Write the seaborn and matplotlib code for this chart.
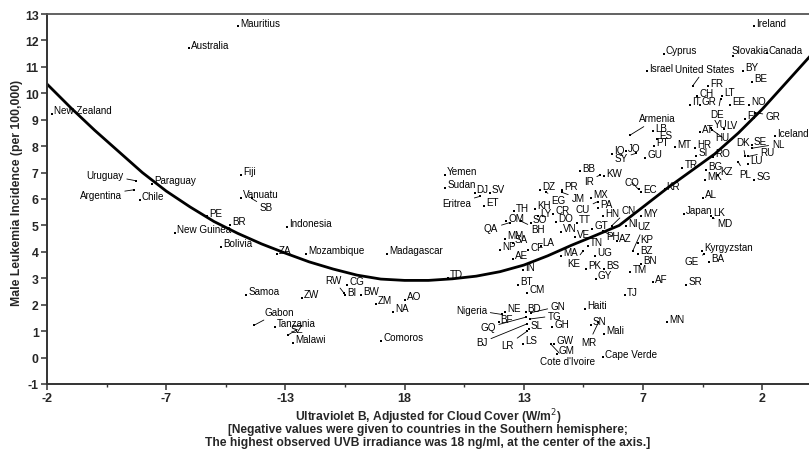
import matplotlib
matplotlib.use("Agg")
import matplotlib.pyplot as plt
import seaborn as sns
import pandas as pd
from matplotlib import font_manager

# ---------------- data (x = position on the folded UVB axis, ticks every 5 units) -------------
countries = [
    "New Zealand", "Australia", "Mauritius", "Uruguay", "Paraguay", "Argentina", "Chile", "Fiji",
    "Vanuatu", "SB", "PE", "BR", "New Guinea", "Bolivia", "Indonesia", "ZA", "Mozambique",
    "Madagascar", "Samoa", "Gabon", "Tanzania", "SZ", "Malawi", "ZW", "CG", "BI", "RW", "BW",
    "ZM", "AO", "NA", "Comoros", "TD", "Yemen", "Sudan", "DJ", "SV", "Eritrea", "ET", "TH", "KH",
    "QA", "OM", "BH", "SO", "LY", "CR", "DZ", "EG", "PR", "JM", "MX", "PA", "CU", "HN", "DO",
    "TT", "GT", "VN", "VE", "PH", "MM", "NP", "SA", "CF", "LA", "AE", "MA", "TN", "UG", "KE",
    "PK", "BS", "GY", "BT", "IN", "CM", "Haiti", "Nigeria", "NE", "BF", "GQ", "BJ", "LR", "BD",
    "GN", "TG", "SL", "GH", "LS", "SN", "Mali", "MR", "GW", "GM", "Cote d'Ivoire", "Cape Verde",
    "MN", "AF", "TJ", "TM", "BN", "BZ", "KP", "UZ", "AZ", "NI", "MY", "CN", "Japan", "LK", "MD",
    "Kyrgyzstan", "GE", "BA", "SR", "AL", "KR", "EC", "CO", "KW", "IR", "BB", "IQ", "JO", "SY",
    "GU", "PT", "LB", "ES", "Armenia", "MT", "HR", "SI", "TR", "RO", "AT", "YU", "HU", "LV",
    "MK", "BG", "KZ", "PL", "SG", "LU", "DK", "RU", "SE", "NL", "Iceland", "FI", "NO", "EE",
    "DE", "LT", "IT", "GR", "GR", "CH", "FR", "United States", "BE", "BY", "Israel", "Cyprus",
    "Slovakia", "Canada", "Ireland",
]
uvb_pos = [
    0.20, 5.96, 8.01, 3.73, 4.40, 3.65, 3.90, 8.14,
    8.14, 8.58, 6.71, 7.68, 5.37, 7.30, 10.07, 9.65, 10.87,
    14.26, 8.35, 8.70, 9.56, 10.12, 10.32, 10.70, 12.59, 12.51, 12.44, 13.17,
    13.80, 15.01, 14.51, 14.01, 16.82, 16.70, 16.70, 17.94, 18.57, 18.16, 18.33, 19.59, 20.46,
    19.42, 19.26, 19.88, 20.30, 20.60, 21.23, 20.67, 20.93, 21.60, 21.60, 22.83, 23.11, 23.09, 23.32, 21.35,
    22.23, 22.86, 21.55, 22.14, 23.32, 19.21, 19.02, 19.53, 20.18, 20.70, 19.55, 21.57, 22.70, 22.98, 22.48,
    22.60, 23.37, 23.02, 19.76, 19.97, 20.15, 22.56, 19.09, 19.23, 18.94, 20.09, 20.12, 20.14, 20.07,
    20.30, 20.26, 20.21, 21.20, 19.97, 22.81, 23.37, 23.13, 21.27, 21.37, 21.13, 23.32,
    26.02, 25.42, 24.23, 24.47, 24.93, 24.79, 24.79, 24.57, 23.92, 24.30, 24.93, 23.69, 26.71, 27.84, 27.92,
    27.48, 27.57, 27.76, 26.82, 27.52, 25.90, 24.91, 24.81, 23.37, 23.20, 22.35, 23.70, 24.30, 24.71,
    25.10, 25.46, 25.42, 25.59, 24.46, 26.33, 27.18, 27.24, 26.65, 27.94, 27.38, 27.86, 27.90, 28.40,
    27.59, 27.65, 28.15, 29.00, 29.66, 29.41, 29.28, 29.41, 29.57, 29.56, 30.55, 29.27, 29.44, 28.64,
    28.25, 28.32, 26.96, 27.38, 29.70, 27.27, 27.73, 27.09, 29.59, 29.20, 25.18, 25.87,
    28.78, 30.21, 29.66,
]
incidence = [
    9.22, 11.70, 12.53, 6.69, 6.57, 6.35, 5.96, 6.92,
    6.04, 6.02, 5.34, 5.03, 4.71, 4.18, 4.94, 3.92, 3.93,
    3.93, 2.37, 1.23, 1.16, 0.86, 0.55, 2.25, 2.76, 2.36, 2.46, 2.37,
    2.04, 2.18, 1.72, 0.63, 3.01, 6.92, 6.42, 6.23, 6.23, 6.10, 5.75, 5.53, 5.62,
    5.11, 5.16, 5.16, 5.09, 5.34, 5.44, 6.35, 6.26, 6.34, 6.25, 6.04, 5.66, 5.90, 5.34, 5.13,
    5.09, 4.86, 4.76, 4.55, 4.79, 4.49, 4.08, 4.33, 4.06, 4.24, 3.73, 3.85, 4.22, 3.85, 4.03,
    3.35, 3.35, 2.97, 2.76, 3.30, 2.44, 1.84, 1.63, 1.74, 1.33, 1.53, 1.27, 1.00, 1.72,
    1.70, 1.46, 1.08, 1.14, 0.52, 1.24, 0.90, 1.33, 0.52, 0.15, 0.51, 0.01,
    1.33, 2.85, 2.36, 3.23, 3.55, 3.93, 4.33, 4.04, 4.40, 4.97, 5.34, 4.99, 5.44, 5.37, 5.28,
    4.04, 3.92, 3.62, 2.76, 6.04, 6.36, 6.25, 6.36, 6.86, 6.91, 7.05, 7.71, 7.80, 7.73,
    7.55, 8.00, 8.56, 8.27, 8.42, 7.96, 7.94, 7.64, 7.17, 7.59, 8.52, 8.69, 8.61, 8.65,
    6.73, 7.10, 6.91, 7.39, 6.73, 7.34, 7.63, 7.61, 8.04, 7.92, 8.37, 9.03, 9.57, 9.57,
    9.80, 9.91, 9.57, 9.57, 9.27, 9.88, 10.26, 10.29, 10.42, 10.85, 10.83, 11.50,
    11.42, 11.51, 12.53,
]

# fitted curve
curve_pos = [0, 1, 2, 3, 4, 5, 6, 7, 8, 9, 10, 11, 12, 13, 14, 15, 16, 17, 18, 19, 20,
             21, 22, 23, 24, 25, 26, 27, 28, 29, 30, 31, 32]
curve_val = [10.35, 9.45, 8.6, 7.8, 7.0, 6.3, 5.7, 5.15, 4.7, 4.3, 3.95, 3.62, 3.35, 3.12,
             2.97, 2.92, 2.92, 2.98, 3.08, 3.25, 3.5, 3.85, 4.25, 4.62, 5.0, 5.7, 6.4,
             7.05, 7.7, 8.5, 9.4, 10.4, 11.4]

tick_pos = [0, 5, 10, 15, 20, 25, 30]
tick_labels = ["-2", "-7", "-13", "18", "13", "7", "2"]
y_ticks = list(range(-1, 14))

# ---------------- label layout (pixel offsets, screen y downwards) -------------
leader = {  # text centre relative to the dot, with a leader line
    "Uruguay": (-31, -6), "Argentina": (-33.5, 5), "SB": (15, 9), "Gabon": (25, -13.3),
    "RW": (-10, -12.8), "Eritrea": (-23.3, 6.7), "QA": (-19, 5.8), "BH": (16.8, 8),
    "EG": (12.3, 7.7), "JM": (16, 5.8), "CU": (-14.8, 7.3), "PH": (9.5, 5.3), "KE": (-9.2, 12),
    "Nigeria": (-30.7, -4.8), "GQ": (-38.2, 10.3), "BJ": (-44.7, 18.3), "LR": (-19.5, 13.7),
    "GN": (27.3, -6.2), "TG": (25, -3.3), "MR": (-9.6, 20), "Cote d'Ivoire": (16.3, 17.3),
    "UZ": (11, -24.4), "CN": (16.6, -16), "MD": (12.5, 5), "GE": (-12.3, 7.3), "CO": (-6.5, -7.2),
    "IR": (-11.5, 5.7), "SY": (-15, 4.7), "Armenia": (27, -16.7), "HU": (10.3, 7.3),
    "PL": (6.7, 11.7), "DK": (-2.5, -13.7), "RU": (19.5, -4.2), "NL": (26.3, -4.3),
    "GR#2": (18.3, 3.2), "DE": (-3, 15.5), "United States": (12, -16.7), "SZ": (9, -5.5),
}
plain_shift = {"Slovakia": (-1.3, -2.5), "Canada": (1.7, -0.3), "Iceland": (1.5, -0.7)}
default_shift = (2, -0.7)

# ---------------- fonts / style -------------
sns.set_style("white")
avail = {f.name for f in font_manager.fontManager.ttflist}
base_font = "Liberation Sans" if "Liberation Sans" in avail else "DejaVu Sans"
narrow_font = "Liberation Sans Narrow" if "Liberation Sans Narrow" in avail else base_font
plt.rcParams["font.family"] = [base_font, "DejaVu Sans"]

fig = plt.figure(figsize=(8.09, 4.52), dpi=100)
fig.patch.set_facecolor("white")
ax = fig.add_axes([47 / 809, 67 / 452, 762 / 809, 370 / 452])
ax.set_facecolor("white")

sns.lineplot(x=curve_pos, y=curve_val, ax=ax, color="black", linewidth=2.0,
             estimator=None, sort=False, zorder=2)
df = pd.DataFrame({"pos": uvb_pos, "val": incidence, "name": countries})
sns.scatterplot(data=df, x="pos", y="val", ax=ax, marker="s", s=3.0, color="black",
                linewidth=0, zorder=3)

P = 0.72  # px -> points
FS = 7.1
seen = set()
for name, x, y in zip(countries, uvb_pos, incidence):
    key = name if name not in seen else name + "#2"
    seen.add(name)
    if key in leader:
        dx, dy = leader[key]
        ax.annotate(name, xy=(x, y), xytext=(dx * P, -dy * P), textcoords="offset points",
                    ha="center", va="center", fontsize=FS, color="black",
                    arrowprops=dict(arrowstyle="-", lw=0.6, color="black",
                                    shrinkA=0, shrinkB=0.5))
    else:
        dx, dy = plain_shift.get(key, default_shift)
        ax.annotate(name, xy=(x, y), xytext=(dx * P, -dy * P), textcoords="offset points",
                    ha="left", va="baseline", fontsize=FS, color="black")

ax.set_xlim(0, 31.96)
ax.set_ylim(-1, 13)
ax.set_xticks(tick_pos)
ax.set_xticklabels(tick_labels, fontweight="bold", fontsize=9)
ax.set_xticks([p + 2.5 for p in tick_pos[:-1]], minor=True)
ax.set_yticks(y_ticks)
ax.set_yticklabels([str(t) for t in y_ticks], fontweight="bold", fontsize=8.8)
ax.tick_params(axis="both", which="major", direction="out", length=4.5, width=1.1,
               color="#333333", pad=1.5, bottom=True, left=True)
ax.tick_params(axis="x", which="minor", direction="out", length=2.5, width=1.0,
               color="#333333", bottom=True)
ax.set_xlabel("")
ax.set_ylabel("")
for side in ["left", "bottom"]:
    ax.spines[side].set_color("#333333")
    ax.spines[side].set_linewidth(1.4)
ax.spines["top"].set_color("#555555")
ax.spines["top"].set_linewidth(1.3)
ax.spines["right"].set_visible(False)

# axis titles, sized to the reference widths
renderer = fig.canvas.get_renderer()


def fitted_text(x, y, s, target_w, family, rot=0, **kw):
    t = fig.text(x, y, s, family=[family, "DejaVu Sans"], fontweight="bold", fontsize=9,
                 ha="center", va="center", rotation=rot, **kw)
    bb = t.get_window_extent(renderer)
    w = bb.height if rot else bb.width
    t.set_fontsize(9 * target_w / w)
    return t


fitted_text(17 / 809, 1 - 193 / 452, "Male Leukemia Incidence (per 100,000)", 227, base_font, rot=90)
xc = (47 + 809) / 2 / 809
fitted_text(xc, 1 - 417 / 452, "Ultraviolet B, Adjusted for Cloud Cover (W/m$^{2}$)", 266, narrow_font)
fitted_text(xc, 1 - 430.5 / 452,
            "[Negative values were given to countries in the Southern hemisphere;", 400, narrow_font)
fitted_text(xc, 1 - 443.3 / 452,
            "The highest observed UVB irradiance was 18 ng/ml, at the center of the axis.]", 445,
            narrow_font)

fig.savefig("out.png", dpi=100, facecolor="white")
